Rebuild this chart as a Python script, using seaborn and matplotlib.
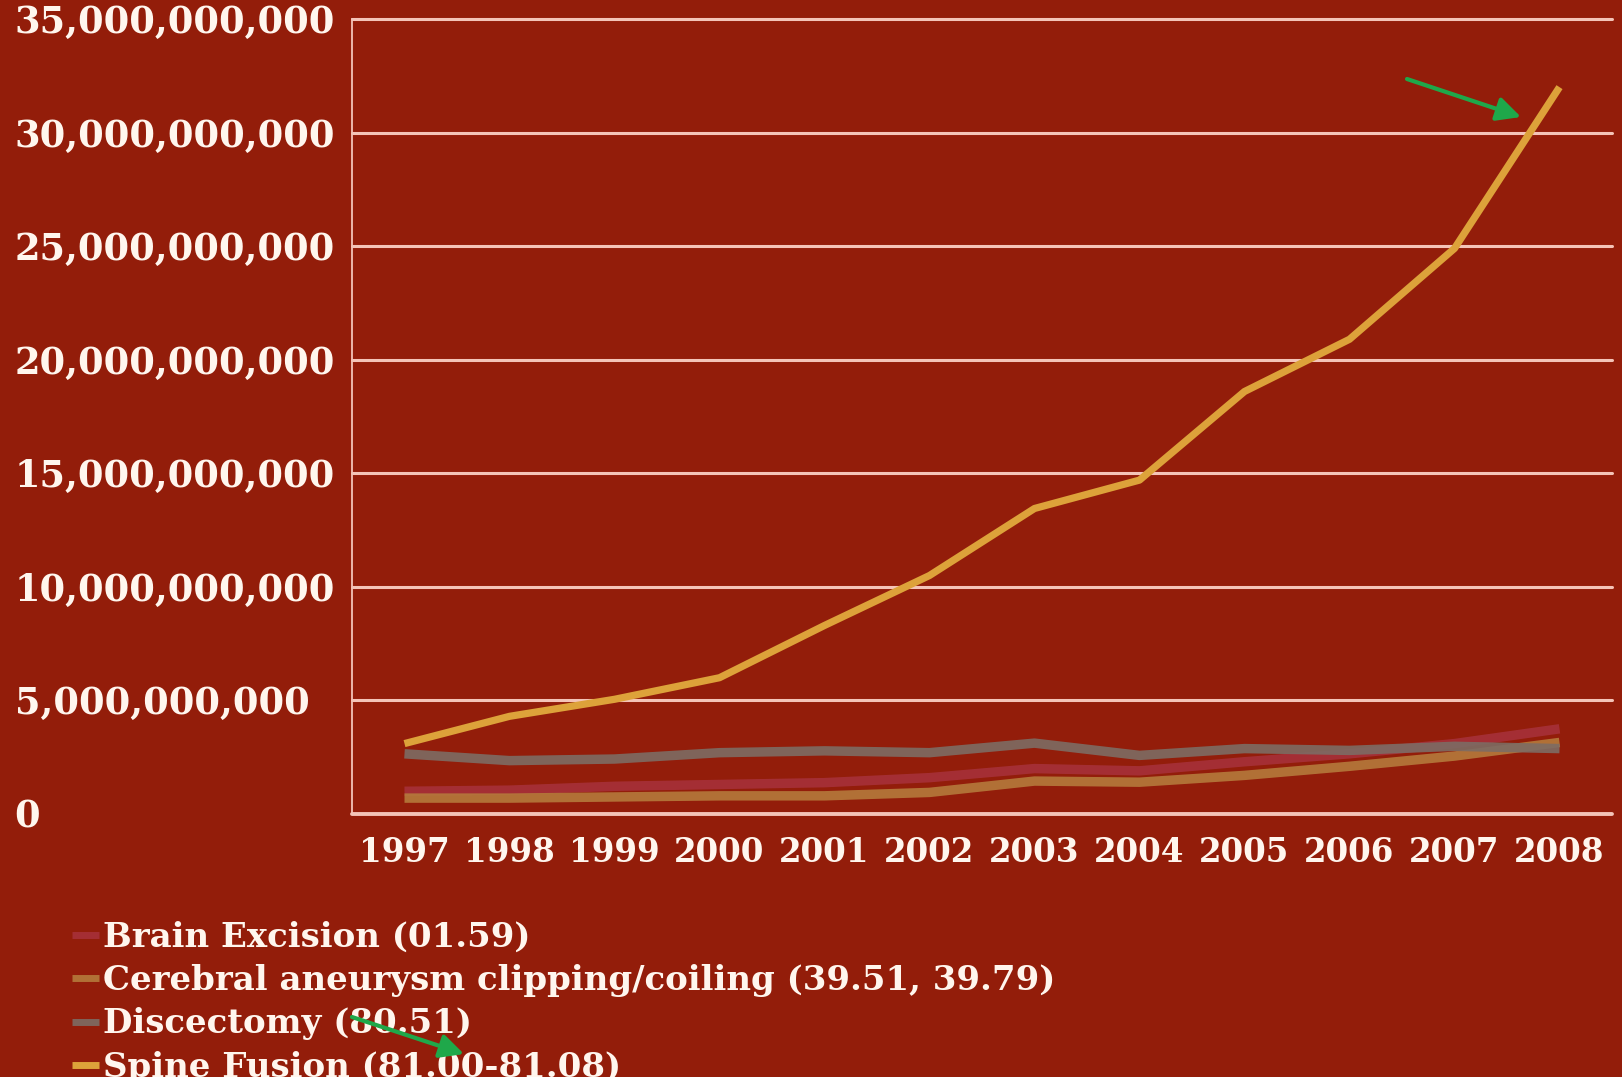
import matplotlib
matplotlib.use("Agg")
import matplotlib.pyplot as plt
import matplotlib.ticker as mticker
import seaborn as sns
import pandas as pd

# Annual national costs by neurosurgical procedure (USD)
years = [1997, 1998, 1999, 2000, 2001, 2002, 2003, 2004, 2005, 2006, 2007, 2008]
brain_excision = [1.00e9, 1.05e9, 1.22e9, 1.30e9, 1.38e9, 1.60e9, 2.00e9, 1.90e9, 2.30e9, 2.65e9, 3.10e9, 3.75e9]
cerebral_aneurysm = [0.70e9, 0.70e9, 0.75e9, 0.80e9, 0.80e9, 0.95e9, 1.45e9, 1.40e9, 1.70e9, 2.10e9, 2.55e9, 3.15e9]
discectomy = [2.65e9, 2.35e9, 2.42e9, 2.70e9, 2.78e9, 2.70e9, 3.12e9, 2.58e9, 2.88e9, 2.80e9, 2.98e9, 2.88e9]
spine_fusion = [3.10e9, 4.30e9, 5.05e9, 6.00e9, 8.30e9, 10.50e9, 13.45e9, 14.70e9, 18.60e9, 20.90e9, 24.90e9, 32.00e9]

series_names = [
    "Brain Excision (01.59)",
    "Cerebral aneurysm clipping/coiling (39.51, 39.79)",
    "Discectomy (80.51)",
    "Spine Fusion (81.00-81.08)",
]
series_values = [brain_excision, cerebral_aneurysm, discectomy, spine_fusion]
y_ticks = [0, 5e9, 10e9, 15e9, 20e9, 25e9, 30e9, 35e9]

colors = ["#A8323C", "#B57A3C", "#7D6C64", "#DDA23A"]
widths = [6.8, 6.8, 6.8, 5.2]
alphas = [0.85, 0.9, 0.9, 1.0]

bg = "#931D0A"
grid_c = "#F4C4B8"
text_c = "#FFF6EE"

df = pd.concat(
    [pd.DataFrame({"year": years, "cost": v, "procedure": n}) for n, v in zip(series_names, series_values)],
    ignore_index=True,
)

sns.set_style("white")
plt.rcParams["font.family"] = ["DejaVu Serif"]
plt.rcParams["font.weight"] = "bold"

fig = plt.figure(figsize=(16.22, 10.77), dpi=100, facecolor=bg)
ax = fig.add_axes([352 / 1622, 1 - 814 / 1077, 1260 / 1622, 795 / 1077])
ax.set_facecolor(bg)

for name, c, lw, a in zip(series_names, colors, widths, alphas):
    sns.lineplot(
        data=df[df["procedure"] == name], x="year", y="cost", ax=ax,
        color=c, linewidth=lw, alpha=a, label=name, legend=False,
        solid_capstyle="butt", zorder=3,
    )

ax.set_xlim(1996.5, 2008.5)
ax.set_ylim(0, 35e9)
ax.set_xlabel("")
ax.set_ylabel("")

# gridlines
for yv in y_ticks:
    ax.axhline(yv, color=grid_c, lw=2.2 if yv else 2.8, zorder=1, clip_on=False)

for s in ["top", "right", "bottom"]:
    ax.spines[s].set_visible(False)
ax.spines["left"].set_color(grid_c)
ax.spines["left"].set_linewidth(1.3)

ax.set_yticks(y_ticks)
ax.yaxis.set_major_formatter(mticker.FuncFormatter(lambda v, p: f"{v:,.0f}"))
ax.tick_params(axis="y", colors=grid_c, length=7, width=1.2, labelcolor=text_c,
               labelsize=26.5, pad=236)
for lab in ax.get_yticklabels():
    lab.set_ha("left")
    lab.set_fontweight("bold")

ax.set_xticks(years)
ax.set_xticklabels([str(y) for y in years], fontsize=23.5, fontweight="bold", color=text_c)
ax.set_xticks([y + 0.5 for y in [1996] + years], minor=True)
ax.tick_params(axis="x", which="major", length=0, pad=16)
ax.tick_params(axis="x", which="minor", length=12, width=1.3, color=grid_c)

leg = fig.legend(
    handles=ax.get_lines()[:4], labels=series_names,
    loc="upper left", bbox_to_anchor=(72 / 1622, 1 - 921 / 1077),
    frameon=False, fontsize=24.5, handlelength=0.8, handletextpad=0.12,
    labelspacing=0.3, borderpad=0, borderaxespad=0,
)
for t in leg.get_texts():
    t.set_color(text_c)
    t.set_fontweight("bold")
for h in leg.legend_handles:
    h.set_linewidth(5)

# green call-out arrows
green = "#1FA84A"
arrow_kw = dict(arrowstyle="-|>", color=green, lw=3, mutation_scale=36,
                shrinkA=0, shrinkB=0, zorder=20)
fig.add_artist(matplotlib.patches.FancyArrowPatch(
    (1407, 1077 - 79), (1521, 1077 - 117), transform=None, **arrow_kw))
fig.add_artist(matplotlib.patches.FancyArrowPatch(
    (352, 1077 - 1017), (464, 1077 - 1054), transform=None, **arrow_kw))

fig.savefig("out.png", dpi=100, facecolor=bg)
